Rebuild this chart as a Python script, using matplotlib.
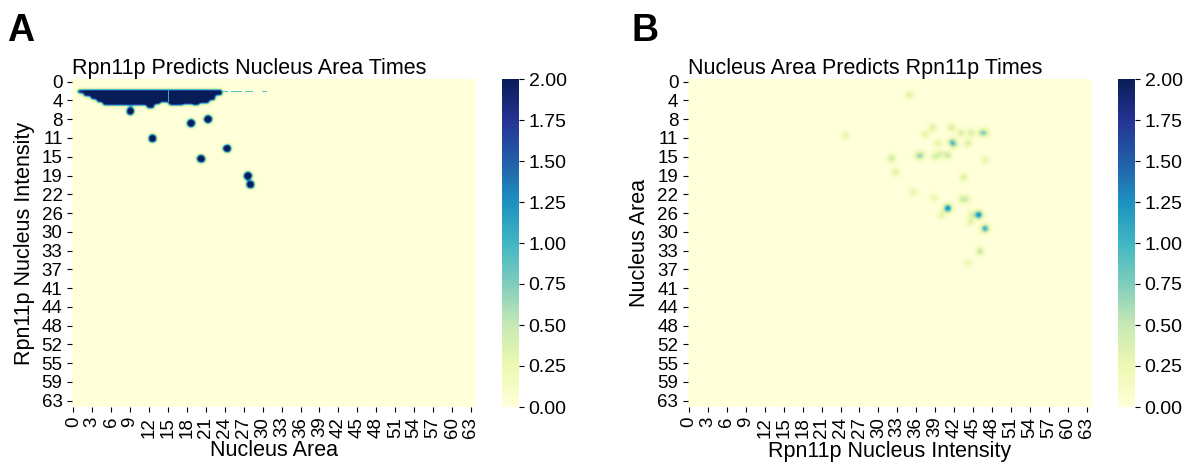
import numpy as np
import matplotlib
matplotlib.use('Agg')
import matplotlib.pyplot as plt

plt.rcParams['font.family'] = ['Liberation Sans', 'DejaVu Sans']

# tick labels on both heatmaps
x_tick_vals = list(range(0, 64, 3))
y_tick_labels = ['0', '4', '8', '11', '15', '19', '22', '26', '30', '33',
                 '37', '41', '44', '48', '52', '55', '59', '63']

# A: Rpn11p predicts nucleus area - saturated band near the top
band_top = 1.7
band_edges = [0.8, 1.8, 2.8, 3.8, 4.8, 9.0, 11.8, 12.8, 13.8, 15.2,
              17.5, 19.0, 20.0, 21.5, 22.5, 23.6]
band_bottom = [2.3, 2.9, 3.4, 4.0, 4.6, 4.7, 5.2, 4.4, 4.1, 4.7,
               4.4, 4.7, 4.3, 3.6, 2.6]
band_gap_x = 15.1
a_dot_x = [9.1, 18.7, 21.4, 12.6, 24.4, 20.3, 27.7, 28.1]
a_dot_y = [5.8, 8.2, 7.4, 11.2, 13.2, 15.2, 18.6, 20.3]
dash_x0 = [23.6, 25.0, 27.3, 29.9]
dash_x1 = [24.6, 26.7, 28.5, 30.8]
dash_y = 1.9

# B: nucleus area predicts Rpn11p - faint scattered spots
b_x = [34.9, 24.8, 38.6, 41.6, 37.4, 43.1, 44.7, 46.3, 46.9, 39.4, 41.6, 42.0,
       44.2, 32.1, 36.3, 36.8, 38.9, 39.8, 41.0, 46.9, 32.7, 43.5, 35.5, 38.8,
       43.2, 44.0, 41.0, 40.0, 44.8, 45.9, 44.6, 46.9, 46.1, 44.2]
b_y = [2.6, 10.7, 9.1, 9.1, 10.4, 10.1, 10.1, 10.1, 10.1, 12.1, 11.9, 12.4,
       12.1, 15.1, 14.7, 14.5, 14.8, 14.3, 14.5, 15.5, 17.8, 18.9, 21.9, 22.9,
       23.2, 23.2, 25.0, 26.3, 26.3, 26.3, 27.7, 29.0, 33.5, 35.8]
b_val = [0.35, 0.3, 0.35, 0.4, 0.3, 0.4, 0.4, 0.45, 0.45, 0.3, 0.6, 0.5,
         0.4, 0.45, 0.4, 0.4, 0.35, 0.35, 0.45, 0.3, 0.35, 0.35, 0.3, 0.25,
         0.35, 0.35, 1.25, 0.3, 0.3, 1.2, 0.3, 1.0, 0.5, 0.25]

xlim = (-0.16, 63.84)
ylim = (64.25, -0.53)
nx, ny = 404, 328
sx = nx / (xlim[1] - xlim[0])
sy = ny / (ylim[0] - ylim[1])
xc = xlim[0] + (np.arange(nx) + 0.5) / sx
yc = ylim[1] + (np.arange(ny) + 0.5) / sy
X, Y = np.meshgrid(xc, yc)


def blur(a, s):
    r = int(3 * s) + 1
    k = np.exp(-0.5 * (np.arange(-r, r + 1) / s) ** 2)
    k /= k.sum()
    a = np.apply_along_axis(lambda v: np.convolve(v, k, 'same'), 0, a)
    a = np.apply_along_axis(lambda v: np.convolve(v, k, 'same'), 1, a)
    return a


# field for A
fa = np.zeros((ny, nx))
for x0, x1, yb in zip(band_edges[:-1], band_edges[1:], band_bottom):
    fa[(X >= x0) & (X < x1) & (Y >= band_top) & (Y < yb)] = 2.6
for x, y in zip(a_dot_x, a_dot_y):
    fa[((X - x) * sx) ** 2 + ((Y - y) * sy) ** 2 <= 3.9 ** 2] = 2.6
fa = blur(fa, 1.4)
fa[(np.abs(X - band_gap_x) < 0.09) & (Y >= band_top) & (Y < 4.1)] = 1.1
for x0, x1 in zip(dash_x0, dash_x1):
    m = (X >= x0) & (X < x1) & (np.abs(Y - dash_y) < 0.12)
    fa[m] = np.maximum(fa[m], 0.9)

# field for B
fb = np.zeros((ny, nx))
for x, y, v in zip(b_x, b_y, b_val):
    fb += v * np.exp(-(((X - x) * sx) ** 2 + ((Y - y) * sy) ** 2) / (2 * 2.9 ** 2))

fig = plt.figure(figsize=(11.88, 4.68), dpi=100)
W, H = 1188, 468


def draw(left, cleft, field, title, xlabel, ylabel):
    ax = fig.add_axes([left / W, 1 - 407 / H, 404 / W, 328 / H])
    cax = fig.add_axes([cleft / W, 1 - 407 / H, 17 / W, 328 / H])
    im = ax.imshow(field, cmap='YlGnBu', vmin=0, vmax=2, aspect='auto',
                   interpolation='nearest',
                   extent=(xlim[0], xlim[1], ylim[0], ylim[1]))
    ax.set_xlim(xlim)
    ax.set_ylim(ylim)
    for sp in ax.spines.values():
        sp.set_visible(False)
    ax.set_xticks(x_tick_vals)
    ax.set_xticklabels([str(v) for v in x_tick_vals], rotation=90)
    ax.set_yticks(np.linspace(0, 63, len(y_tick_labels)))
    ax.set_yticklabels(y_tick_labels)
    ax.tick_params(labelsize=13.5)
    ax.set_title(title, loc='left', fontsize=15.5, pad=3)
    ax.set_xlabel(xlabel, fontsize=15.5, labelpad=2)
    ax.set_ylabel(ylabel, fontsize=15.5, labelpad=5)
    cb = fig.colorbar(im, cax=cax)
    cb.outline.set_visible(False)
    cb.set_ticks(np.arange(0, 2.01, 0.25))
    cb.ax.yaxis.set_major_formatter(matplotlib.ticker.FormatStrFormatter('%.2f'))
    cb.ax.tick_params(labelsize=14)
    return ax


draw(72.3, 502, fa, 'Rpn11p Predicts Nucleus Area Times',
     'Nucleus Area', 'Rpn11p Nucleus Intensity')
draw(688, 1118, fb, 'Nucleus Area Predicts Rpn11p Times',
     'Rpn11p Nucleus Intensity', 'Nucleus Area')

fig.text(7 / W, 1 - 13 / H, 'A', fontsize=27, fontweight='bold', va='top')
fig.text(631 / W, 1 - 13 / H, 'B', fontsize=27, fontweight='bold', va='top')

fig.savefig('out.png', dpi=100)
